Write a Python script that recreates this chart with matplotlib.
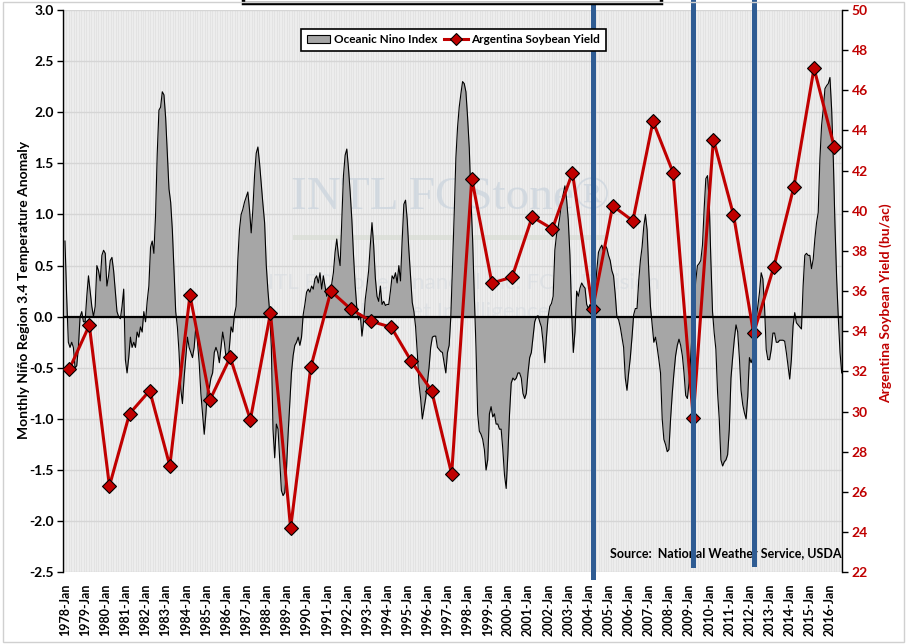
import matplotlib
matplotlib.use("Agg")
import matplotlib.pyplot as plt
import numpy as np
from matplotlib import font_manager
from matplotlib.lines import Line2D
from matplotlib.patches import Patch, Rectangle

# monthly Nino 3.4 anomaly, 1978-Jan .. 2016-Aug
oni_monthly = [
    0.74, 0.20, -0.25, -0.30, -0.25, -0.30, -0.50, -0.48, -0.30, 0.00, 0.05, -0.05,   # 1978
    -0.05, 0.20, 0.40, 0.25, 0.10, 0.00, 0.10, 0.50, 0.45, 0.35, 0.60, 0.65,         # 1979
    0.62, 0.30, 0.40, 0.55, 0.58, 0.45, 0.25, 0.05, 0.00, -0.02, 0.10, 0.27,         # 1980
    -0.42, -0.55, -0.40, -0.20, -0.30, -0.25, -0.30, -0.15, -0.20, -0.10, -0.15, 0.05,  # 1981
    -0.05, 0.15, 0.30, 0.68, 0.74, 0.62, 1.00, 1.60, 2.02, 2.05, 2.20, 2.17,         # 1982
    1.95, 1.60, 1.25, 1.12, 0.85, 0.45, 0.05, -0.10, -0.35, -0.70, -0.85, -0.60,     # 1983
    -0.40, -0.20, -0.30, -0.35, -0.40, -0.30, -0.10, -0.25, -0.45, -0.75, -0.95, -1.15,  # 1984
    -0.95, -0.70, -0.70, -0.60, -0.55, -0.35, -0.30, -0.35, -0.45, -0.30, -0.15, -0.25,  # 1985
    -0.40, -0.45, -0.30, -0.10, -0.15, 0.02, 0.10, 0.55, 0.85, 1.00, 1.05, 1.12,     # 1986
    1.17, 1.22, 1.05, 0.82, 1.05, 1.38, 1.60, 1.66, 1.50, 1.30, 1.10, 0.92,          # 1987
    0.50, 0.25, 0.05, -0.30, -1.10, -1.38, -1.05, -1.10, -1.40, -1.70, -1.75, -1.72,  # 1988
    -1.50, -1.15, -0.85, -0.55, -0.38, -0.28, -0.25, -0.20, -0.28, -0.20, 0.02, 0.12,  # 1989
    0.24, 0.27, 0.24, 0.30, 0.27, 0.37, 0.40, 0.33, 0.43, 0.27, 0.40, 0.30,          # 1990
    0.20, 0.25, 0.28, 0.32, 0.43, 0.63, 0.76, 0.60, 0.50, 0.95, 1.38, 1.58,          # 1991
    1.64, 1.45, 1.22, 0.95, 0.60, 0.30, 0.08, -0.03, 0.03, -0.19, -0.05, 0.17,       # 1992
    0.30, 0.45, 0.70, 0.92, 0.70, 0.38, 0.20, 0.15, 0.30, 0.12, 0.15, 0.11,          # 1993
    0.12, 0.12, 0.25, 0.40, 0.37, 0.43, 0.33, 0.50, 0.35, 0.75, 1.10, 1.14,          # 1994
    0.95, 0.65, 0.40, 0.14, 0.05, -0.10, -0.35, -0.65, -0.80, -1.00, -0.90, -0.80,   # 1995
    -0.65, -0.50, -0.30, -0.20, -0.19, -0.19, -0.30, -0.32, -0.34, -0.35, -0.45, -0.55,  # 1996
    -0.35, -0.28, 0.00, 0.50, 1.00, 1.55, 1.85, 2.05, 2.18, 2.30, 2.28, 2.20,        # 1997
    1.95, 1.65, 1.15, 0.75, 0.20, -0.30, -0.95, -1.12, -1.15, -1.20, -1.30, -1.50,   # 1998
    -1.40, -0.95, -0.88, -0.98, -0.95, -1.05, -1.05, -1.10, -1.10, -1.30, -1.55, -1.68,  # 1999
    -1.35, -0.95, -0.65, -0.60, -0.62, -0.60, -0.55, -0.55, -0.60, -0.75, -0.80, -0.75,  # 2000
    -0.55, -0.40, -0.35, -0.20, -0.05, 0.00, 0.01, -0.05, -0.10, -0.25, -0.45, -0.20,  # 2001
    0.00, 0.10, 0.13, 0.20, 0.65, 0.80, 0.88, 0.98, 1.12, 1.20, 1.28, 1.15,          # 2002
    0.95, 0.60, 0.05, -0.35, -0.15, 0.25, 0.20, 0.28, 0.33, 0.30, 0.28, 0.12,        # 2003
    0.08, 0.12, 0.08, 0.03, 0.25, 0.45, 0.63, 0.67, 0.70, 0.64, 0.70, 0.67,          # 2004
    0.60, 0.55, 0.45, 0.40, 0.22, 0.00, -0.03, -0.10, -0.20, -0.30, -0.60, -0.72,    # 2005
    -0.55, -0.40, -0.20, 0.02, 0.08, 0.08, 0.35, 0.55, 0.68, 0.88, 1.00, 0.85,       # 2006
    0.45, 0.10, -0.08, -0.25, -0.20, -0.30, -0.42, -0.55, -1.00, -1.20, -1.25, -1.32,  # 2007
    -1.30, -1.00, -0.75, -0.55, -0.38, -0.28, -0.22, -0.28, -0.38, -0.55, -0.77, -0.80,  # 2008
    -0.65, -0.40, -0.10, 0.15, 0.35, 0.50, 0.52, 0.55, 0.70, 1.05, 1.35, 1.38,       # 2009
    1.15, 0.56, 0.05, -0.16, -0.32, -0.74, -1.00, -1.40, -1.46, -1.42, -1.40, -1.35,  # 2010
    -1.10, -0.60, -0.40, -0.22, -0.08, -0.15, -0.40, -0.72, -0.86, -0.94, -1.00, -0.78,  # 2011
    -0.40, -0.45, -0.40, -0.35, -0.02, 0.10, 0.24, 0.43, 0.37, 0.10, -0.32, -0.42,   # 2012
    -0.42, -0.32, -0.16, -0.16, -0.25, -0.25, -0.23, -0.23, -0.23, -0.24, -0.35, -0.48,  # 2013
    -0.61, -0.42, -0.09, 0.04, -0.06, -0.08, -0.10, -0.12, 0.30, 0.60, 0.62, 0.60,   # 2014
    0.60, 0.47, 0.56, 0.76, 0.92, 1.02, 1.54, 1.87, 2.03, 2.23, 2.26, 2.28,          # 2015
    2.34, 2.03, 1.54, 0.89, 0.37, -0.02, -0.35, -0.55,                               # 2016
]

yield_years = list(range(1978, 2017))
soy_yield = [
    32.1, 34.3, 26.3, 29.9, 31.05, 27.3, 35.8, 30.6, 32.7, 29.6,
    34.9, 24.2, 32.2, 36.0, 35.1, 34.5, 34.2, 32.5, 31.05, 26.9,
    41.6, 36.4, 36.7, 39.7, 39.1, 41.9, 35.1, 40.25, 39.5, 44.45,
    41.9, 29.7, 43.55, 39.8, 33.9, 37.2, 41.2, 47.1, 43.2,
]
yield_month_offset = 2.5          # yield points sit near harvest (Mar)
highlight_years = [2004, 2009, 2012]
highlight_bottom_px = [577, 565, 564]

first_year = 1978
tick_years = list(range(1978, 2017))

RED = "#c00000"
BLUE = "#2f5c93"

avail = {f.name for f in font_manager.fontManager.ttflist}
base_font = "Lato" if "Lato" in avail else "Liberation Sans"
plt.rcParams["font.family"] = [base_font, "DejaVu Sans"]

W, H = 912, 644


def fx(px):
    return px / W


def fy(py):
    return 1 - py / H


AX_L, AX_R, AX_T, AX_B = 63.3, 841.7, 10.0, 572.3

fig = plt.figure(figsize=(W / 100, H / 100), dpi=100)
fig.patch.set_facecolor("white")
ax = fig.add_axes([fx(AX_L), fy(AX_B), fx(AX_R) - fx(AX_L), fy(AX_T) - fy(AX_B)])
ax.set_facecolor("#e3e3e3")

months = np.arange(len(oni_monthly))
oni = np.array(oni_monthly)
ax.set_xlim(-1.0, 463.0)
ax.set_ylim(-2.5, 3.0)

# monthly stripes + horizontal grid
ax.vlines(np.arange(-1, 464), -2.5, 3.0, color="#f3f3f3", lw=0.45, zorder=0.2)
for yv in np.arange(-2.5, 3.01, 0.5):
    ax.axhline(yv, color="#d5d5d5", lw=1.0, zorder=0.3)

# watermark
ax.text(fx(450), fy(198), "INTL FCStone\u00ae", transform=fig.transFigure, ha="center", va="center",
        fontsize=34, family="Liberation Serif", color="#c9d3dd", alpha=0.7, zorder=0.5)
ax.add_patch(Rectangle((fx(293), fy(240)), fx(605) - fx(293), 5 / H, transform=fig.transFigure,
                       fc="#d8dcd4", ec="none", alpha=0.7, zorder=0.5))
ax.text(fx(455), fy(283), "INTL FCStone Financial Inc. FCM Division", transform=fig.transFigure,
        ha="center", va="center", fontsize=16, color="#d6dbe0", alpha=0.6, zorder=0.5)
ax.text(fx(455), fy(312), "Market Intelligence", transform=fig.transFigure,
        ha="center", va="center", fontsize=16, color="#d6dbe0", alpha=0.6, zorder=0.5)

ax.fill_between(months, oni, 0, color="#a6a6a6", lw=0, zorder=1)
ax.plot(months, oni, color="black", lw=0.8, zorder=2)
ax.axhline(0, color="black", lw=1.6, zorder=3)

ax.set_xticks([(y - first_year) * 12 for y in tick_years])
ax.set_xticklabels([f"{y}-Jan" for y in tick_years], rotation=90, fontsize=9, fontweight="bold")
ax.tick_params(axis="x", length=0, pad=8)
ax.set_yticks(np.arange(-2.5, 3.01, 0.5))
ax.set_yticklabels([f"{v:.1f}" for v in np.arange(-2.5, 3.01, 0.5)], fontsize=10, fontweight="bold")
ax.tick_params(axis="y", length=4, width=1, direction="out", pad=3)
for s in ["top", "bottom", "right"]:
    ax.spines[s].set_visible(False)
ax.spines["left"].set_linewidth(1.0)

ax2 = ax.twinx()
ax2.set_ylim(22, 50)
ax2.set_yticks(np.arange(22, 51, 2))
ax2.set_yticklabels([str(v) for v in range(22, 51, 2)], fontsize=10, fontweight="bold", color=RED)
ax2.tick_params(axis="y", length=4, width=1, direction="out", pad=3, colors="black", labelcolor=RED)
for s in ["top", "bottom", "left"]:
    ax2.spines[s].set_visible(False)
ax2.spines["right"].set_linewidth(1.0)

yield_x = [(y - first_year) * 12 + yield_month_offset for y in yield_years]
ax2.plot(yield_x, soy_yield, color=RED, lw=2.2, marker="D", ms=7, mfc=RED, mec="black", mew=0.8, zorder=4)

top_frac = AX_B / (AX_B - AX_T)
for yr, bpx in zip(highlight_years, highlight_bottom_px):
    xv = (yr - first_year) * 12 + yield_month_offset
    ax2.axvline(xv, ymin=(AX_B - bpx) / (AX_B - AX_T), ymax=top_frac, color=BLUE, lw=3.6,
                clip_on=False, zorder=6)

handles = [
    Patch(facecolor="#a6a6a6", edgecolor="black", lw=0.8, label="Oceanic Nino Index"),
    Line2D([], [], color=RED, lw=2.2, marker="D", ms=6, mfc=RED, mec="black", mew=0.8,
           label="Argentina Soybean Yield"),
]
leg = ax2.legend(handles=handles, loc="upper center", ncol=2,
                 bbox_to_anchor=((453.5 - AX_L) / (AX_R - AX_L), (AX_B - 23) / (AX_B - AX_T)),
                 frameon=True, fancybox=False, edgecolor="black", framealpha=1,
                 prop={"size": 8.5, "weight": "bold"}, handlelength=2.0, columnspacing=0.6,
                 borderpad=0.45, handletextpad=0.3)
leg.get_frame().set_linewidth(1.2)
leg.set_zorder(7)

ax2.text((610 - AX_L) / (AX_R - AX_L), (AX_B - 553) / (AX_B - AX_T),
         "Source:  National Weather Service, USDA", transform=ax2.transAxes,
         ha="left", va="center", fontsize=9, fontweight="bold", zorder=5)

fig.text(fx(24), fy(290), "Monthly Ni\u00f1o Region 3.4 Temperature Anomaly", rotation=90,
         ha="center", va="center", fontsize=10, fontweight="bold")
fig.text(fx(886), fy(303), "Argentina Soybean Yield (bu/ac)", rotation=90,
         ha="center", va="center", fontsize=10, fontweight="bold", color=RED)

# title box (cut off at top) and chart border
fig.add_artist(Rectangle((fx(243), fy(3)), fx(661) - fx(243), 0.05, transform=fig.transFigure,
                         fc="white", ec="black", lw=2.5, clip_on=False))
fig.add_artist(Rectangle((fx(3), fy(642)), fx(904) - fx(3), fy(2) - fy(642), transform=fig.transFigure,
                         fc="none", ec="#d0d0d0", lw=1.0))

fig.savefig("out.png", dpi=100)
